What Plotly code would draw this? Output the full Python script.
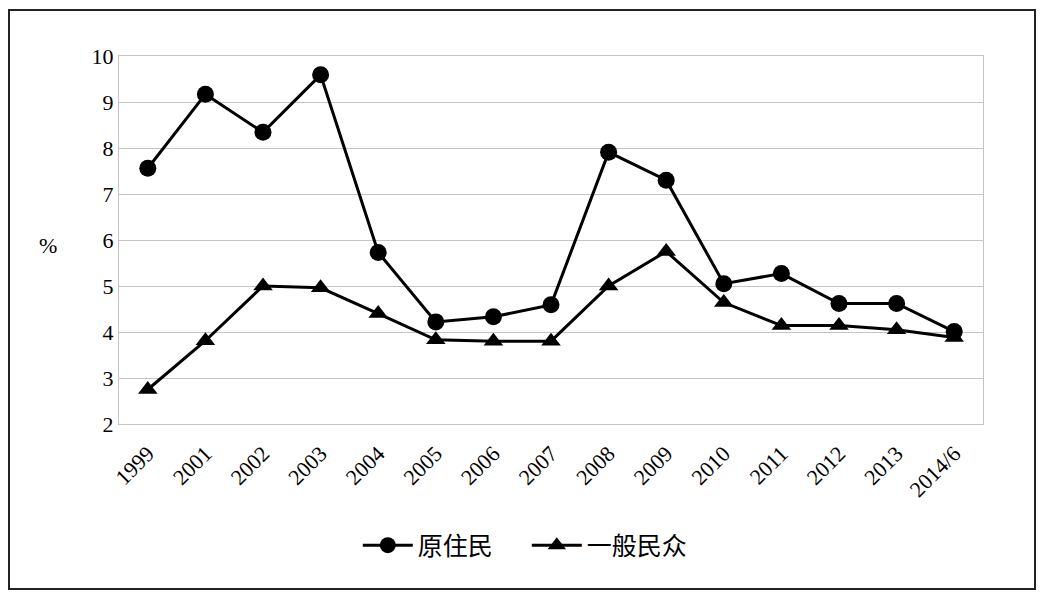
import plotly.graph_objects as go

years = ['1999', '2001', '2002', '2003', '2004', '2005', '2006', '2007',
         '2008', '2009', '2010', '2011', '2012', '2013', '2014/6']

# 原住民 unemployment rate (%)
indigenous = [7.56, 9.17, 8.34, 9.59, 5.73, 4.22, 4.33, 4.59,
              7.91, 7.30, 5.05, 5.27, 4.62, 4.62, 4.01]
# 一般民众 unemployment rate (%)
general = [2.75, 3.81, 5.00, 4.96, 4.40, 3.83, 3.80, 3.80,
           5.00, 5.75, 4.64, 4.14, 4.14, 4.05, 3.88]

serif = "Liberation Serif, Times New Roman, serif"

fig = go.Figure()
fig.add_trace(go.Scatter(x=years, y=indigenous, name='原住民',
                         mode='lines+markers',
                         line=dict(color='black', width=3),
                         marker=dict(symbol='circle', size=17, color='black')))
fig.add_trace(go.Scatter(x=years, y=general, name='一般民众',
                         mode='lines+markers',
                         line=dict(color='black', width=3),
                         marker=dict(symbol='triangle-up', size=17, color='black')))

# page body has an 8px margin, so the figure is drawn 8px smaller
fig.update_layout(
    width=1039, height=598,
    margin=dict(l=111, r=64, t=48, b=182),
    paper_bgcolor='white', plot_bgcolor='white',
    font=dict(family=serif, color='black'),
    showlegend=True,
    legend=dict(orientation='h', x=0.472, xanchor='center', y=-0.33, yanchor='middle',
                font=dict(family="Noto Sans CJK SC", size=25, color='black'),
                itemwidth=50, entrywidth=104, entrywidthmode='pixels'),
    xaxis=dict(type='category', range=[-0.5, 14.5], tickangle=-45,
               tickfont=dict(size=22, family=serif), ticklabelstandoff=7,
               showgrid=False, showline=True, linecolor='#c4c4c4', linewidth=1,
               mirror=True, ticks='', ticklen=0),
    yaxis=dict(range=[2, 10], dtick=1, tickfont=dict(size=22, family=serif),
               showgrid=True, gridcolor='#c4c4c4', gridwidth=1,
               showline=True, linecolor='#c4c4c4', linewidth=1, mirror=True,
               zeroline=False, ticks='', ticklen=0),
    shapes=[dict(type='rect', xref='paper', yref='paper',
                 x0=-0.1273, x1=1.0602, y0=-0.4484, y1=1.125,
                 line=dict(color='#222222', width=2))],
    annotations=[dict(text='%', xref='paper', yref='paper', x=-0.082, y=0.485,
                      xanchor='center', yanchor='middle',
                      showarrow=False, font=dict(size=22, family=serif))],
)

fig.write_html("out.html")
